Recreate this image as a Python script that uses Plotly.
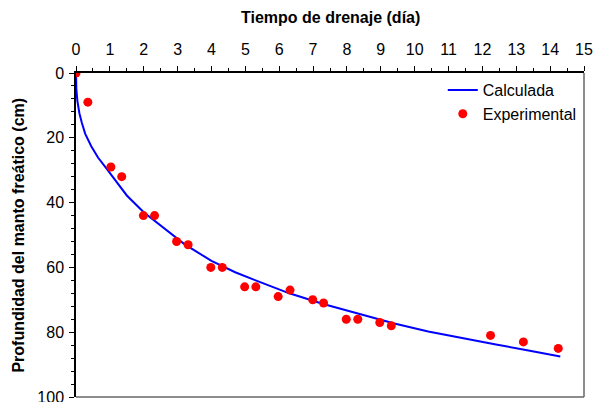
import plotly.graph_objects as go

# Calculated curve
t_calc = [0, 0.01, 0.04, 0.1, 0.17, 0.27, 0.45, 0.65, 0.88, 1.15, 1.5, 2.0, 2.5, 3.2, 4.0,
          4.7, 5.4, 6.3, 7.3, 8.4, 9.4, 10.4, 11.4, 12.4, 13.4, 14.3]
d_calc = [0, 4.9, 8.5, 12.4, 15.3, 18.7, 22.6, 26.1, 29.2, 33.0, 37.8, 43.0, 47.2, 52.8, 58.0,
          61.5, 64.4, 68.0, 71.3, 74.5, 77.3, 79.8, 81.9, 83.8, 85.7, 87.5]

# Experimental points
t_exp = [0, 0.35, 1.03, 1.35, 1.99, 2.32, 2.97, 3.31, 3.98, 4.32, 4.98, 5.31,
         5.97, 6.32, 6.99, 7.31, 7.98, 8.32, 8.97, 9.31, 12.24, 13.21, 14.24]
d_exp = [0, 9, 29, 32, 44, 44, 52, 53, 60, 60, 66, 66,
         69, 67, 70, 71, 76, 76, 77, 78, 81, 83, 85]

x_title = "Tiempo de drenaje (día)"
y_title = "Profundidad del manto freático (cm)"

FONT = "Liberation Sans, Arial, sans-serif"

fig = go.Figure()
fig.add_trace(go.Scatter(x=t_calc, y=d_calc, mode="lines", name="Calculada",
                         line=dict(color="#0000FF", width=2)))
fig.add_trace(go.Scatter(x=t_exp, y=d_exp, mode="markers", name="Experimental",
                         marker=dict(color="#FF0000", size=9)))

fig.update_layout(
    width=595, height=402,
    margin=dict(l=76, r=11, t=73, b=5),
    paper_bgcolor="white", plot_bgcolor="white",
    font=dict(family=FONT, size=16, color="black"),
    showlegend=True,
    legend=dict(x=0.722, xanchor="left", y=1.0, yanchor="top",
                bgcolor="rgba(0,0,0,0)", font=dict(size=16), itemwidth=30,
                tracegroupgap=0),
    xaxis=dict(side="top", range=[0, 15], dtick=1, tick0=0, automargin=False,
               showgrid=False, zeroline=False,
               showline=True, linecolor="black", linewidth=1.5,
               ticks="outside", ticklen=5, tickwidth=1, tickcolor="black",
               minor=dict(dtick=0.5, ticks="outside", ticklen=3, tickcolor="black", showgrid=False),
               tickfont=dict(size=16), ticklabelstandoff=5, ticklabeloverflow="allow"),
    yaxis=dict(range=[100, 0], dtick=20, tick0=0, automargin=False,
               showgrid=False, zeroline=False,
               showline=True, linecolor="black", linewidth=1.5,
               ticks="outside", ticklen=5, tickwidth=1, tickcolor="black",
               minor=dict(dtick=4, ticks="outside", ticklen=3, tickcolor="black", showgrid=False),
               tickfont=dict(size=16), ticklabelstandoff=2, ticklabeloverflow="allow"),
    shapes=[
        dict(type="line", xref="paper", yref="paper", x0=1, x1=1, y0=0, y1=1,
             line=dict(color="#666666", width=1.5), layer="above"),
        dict(type="line", xref="paper", yref="paper", x0=0, x1=1, y0=0, y1=0,
             line=dict(color="#666666", width=1.5), layer="above"),
    ],
    annotations=[
        dict(text="<b>" + x_title + "</b>", xref="paper", yref="paper",
             x=0.5, y=1.172, xanchor="center", yanchor="middle", showarrow=False,
             font=dict(size=16)),
        dict(text="<b>" + y_title + "</b>", xref="paper", yref="paper",
             x=-0.115, y=0.5, xanchor="center", yanchor="middle", showarrow=False,
             textangle=-90, font=dict(size=16)),
    ],
)

fig.write_html("out.html", config={"displayModeBar": False},
               post_script="document.body.style.margin='0';document.body.style.overflow='hidden';")
